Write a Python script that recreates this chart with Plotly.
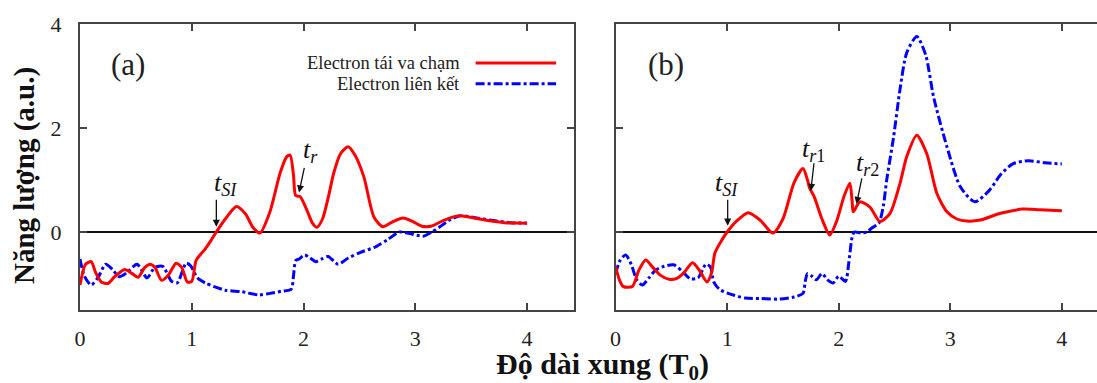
import plotly.graph_objects as go

# ---------------- data ----------------
# Panel (a)
a_red_x = [0.00, 0.05, 0.10, 0.14, 0.19, 0.25, 0.31, 0.40, 0.46, 0.52, 0.58, 0.63, 0.67, 0.73,
           0.79, 0.86, 0.91, 0.96, 1.00, 1.04, 1.12, 1.17, 1.22, 1.30, 1.40, 1.48, 1.55, 1.61,
           1.70, 1.79, 1.85, 1.88, 1.91, 1.93, 1.97, 2.03, 2.08, 2.12, 2.17, 2.22, 2.27, 2.33,
           2.40, 2.46, 2.54, 2.63, 2.71, 2.80, 2.89, 2.98, 3.06, 3.14, 3.25, 3.38, 3.50, 3.65,
           3.80, 4.00]
a_red_y = [-1.02, -0.62, -0.57, -0.78, -0.96, -0.99, -0.86, -0.72, -0.79, -0.87, -0.68, -0.62,
           -0.68, -0.93, -0.83, -0.60, -0.68, -0.96, -0.95, -0.54, -0.33, -0.17, 0.00, 0.25,
           0.49, 0.35, 0.08, -0.02, 0.39, 1.13, 1.45, 1.48, 1.10, 0.70, 0.68, 0.42, 0.17, 0.09,
           0.25, 0.65, 1.13, 1.50, 1.64, 1.48, 1.06, 0.29, 0.10, 0.20, 0.27, 0.20, 0.11, 0.11,
           0.22, 0.31, 0.28, 0.22, 0.18, 0.17]

a_blue_x = [0.00, 0.04, 0.10, 0.16, 0.23, 0.29, 0.35, 0.42, 0.51, 0.60, 0.67, 0.74, 0.82, 0.87,
            0.95, 0.99, 1.05, 1.12, 1.20, 1.30, 1.45, 1.60, 1.70, 1.80, 1.89, 1.91, 1.93, 1.96,
            2.01, 2.06, 2.11, 2.16, 2.22, 2.31, 2.40, 2.50, 2.65, 2.75, 2.86, 2.95, 3.07, 3.15,
            3.22, 3.30, 3.40, 3.55, 3.70, 3.85, 4.00]
a_blue_y = [-0.52, -0.85, -1.02, -0.88, -0.62, -0.72, -0.86, -0.78, -0.62, -0.88, -0.68, -0.66,
            -0.95, -0.98, -0.60, -0.65, -0.88, -0.98, -1.05, -1.12, -1.15, -1.21, -1.18, -1.14,
            -1.10, -0.85, -0.55, -0.52, -0.44, -0.50, -0.57, -0.52, -0.47, -0.62, -0.50, -0.40,
            -0.28, -0.15, 0.00, -0.03, -0.08, 0.00, 0.10, 0.22, 0.31, 0.27, 0.22, 0.18, 0.17]

# Panel (b)
b_red_x = [0.00, 0.04, 0.07, 0.15, 0.21, 0.27, 0.33, 0.40, 0.48, 0.55, 0.61, 0.69, 0.75, 0.82,
           0.86, 0.89, 0.94, 1.00, 1.08, 1.19, 1.30, 1.41, 1.50, 1.60, 1.68, 1.72, 1.74, 1.78,
           1.85, 1.92, 1.98, 2.05, 2.10, 2.12, 2.13, 2.19, 2.28, 2.37, 2.46, 2.55, 2.61, 2.70,
           2.79, 2.88, 2.97, 3.06, 3.15, 3.27, 3.45, 3.65, 3.80, 4.00]
b_red_y = [-0.67, -0.95, -1.05, -1.05, -0.73, -0.54, -0.67, -0.83, -0.91, -0.89, -0.79, -0.59,
           -0.73, -0.96, -0.79, -0.41, -0.20, 0.00, 0.20, 0.37, 0.22, -0.02, 0.25, 0.95, 1.22,
           1.00, 0.84, 0.68, 0.25, -0.06, 0.20, 0.70, 0.94, 0.60, 0.39, 0.58, 0.48, 0.20, 0.36,
           0.94, 1.45, 1.86, 1.50, 0.74, 0.39, 0.25, 0.21, 0.23, 0.36, 0.44, 0.43, 0.41]

b_blue_x = [0.00, 0.04, 0.09, 0.14, 0.19, 0.24, 0.30, 0.36, 0.42, 0.52, 0.60, 0.67, 0.74, 0.81,
            0.85, 0.88, 0.93, 1.01, 1.16, 1.30, 1.47, 1.60, 1.68, 1.70, 1.72, 1.76, 1.80, 1.85,
            1.90, 1.95, 2.00, 2.06, 2.09, 2.12, 2.14, 2.20, 2.25, 2.30, 2.36, 2.40, 2.43, 2.49,
            2.55, 2.61, 2.70, 2.78, 2.85, 2.97, 3.09, 3.22, 3.35, 3.45, 3.56, 3.70, 3.85, 4.00]
b_blue_y = [-0.80, -0.55, -0.44, -0.62, -0.92, -1.02, -0.88, -0.73, -0.67, -0.63, -0.76, -0.90,
            -0.88, -0.62, -0.67, -0.96, -1.10, -1.18, -1.27, -1.28, -1.29, -1.25, -1.18, -0.95,
            -0.80, -0.85, -0.92, -0.80, -0.92, -0.98, -0.85, -0.95, -0.60, -0.10, 0.00, -0.02,
            0.00, 0.08, 0.17, 0.50, 1.00, 1.80, 2.75, 3.45, 3.76, 3.40, 2.60, 1.64, 0.87, 0.58,
            0.80, 1.10, 1.31, 1.37, 1.33, 1.31]

x_ticks = [0, 1, 2, 3, 4]
y_ticks = [0, 2, 4]
legend_names = ["Electron tái va chạm", "Electron liên kết"]
panel_labels = ["(a)", "(b)"]

# ---------------- styling ----------------
RED = "#ff0000"
BLUE = "#0000ff"
FRAME = "#444444"
SERIF = "Liberation Serif"
BLUE_DASH = "9px,3px,3px,3px"

fig = go.Figure()

def add_pair(rx, ry, bx, by, xa, ya):
    fig.add_trace(go.Scatter(x=bx, y=by, mode="lines", xaxis=xa, yaxis=ya, showlegend=False,
                             line=dict(color=BLUE, width=3, dash=BLUE_DASH, shape="spline", smoothing=0.7)))
    fig.add_trace(go.Scatter(x=rx, y=ry, mode="lines", xaxis=xa, yaxis=ya, showlegend=False,
                             line=dict(color=RED, width=3, shape="spline", smoothing=0.7)))

add_pair(a_red_x, a_red_y, a_blue_x, a_blue_y, "x", "y")
add_pair(b_red_x, b_red_y, b_blue_x, b_blue_y, "x2", "y2")

TICKFONT = dict(family=SERIF, size=22, color="#222")
xcommon = dict(tickvals=x_ticks, ticks="inside", ticklen=7, tickwidth=1.5, tickcolor=FRAME,
               showline=True, linecolor=FRAME, linewidth=2, mirror="ticks", showgrid=False,
               zeroline=False, tickfont=TICKFONT, ticklabelstandoff=8, automargin=False)
ycommon = dict(tickvals=y_ticks, ticks="inside", ticklen=7, tickwidth=1.5, tickcolor=FRAME,
               showline=True, linecolor=FRAME, linewidth=2, showgrid=False,
               zeroline=True, zerolinecolor="#111", zerolinewidth=1.5, range=[-1.5, 4],
               tickfont=TICKFONT, automargin=False)

fig.update_layout(
    width=1097, height=383,
    font=dict(family=SERIF, color="#222"),
    margin=dict(l=80, r=0, t=24, b=73, autoexpand=False),
    paper_bgcolor="white", plot_bgcolor="white",
    xaxis=dict(domain=[0, 0.4857], range=[0, 4.42], anchor="y", **xcommon),
    yaxis=dict(domain=[0, 1], anchor="x", mirror="ticks", ticklabelstandoff=12, **ycommon),
    xaxis2=dict(domain=[0.5266, 1], range=[0, 4.315], anchor="y2", **xcommon),
    yaxis2=dict(domain=[0, 1], anchor="x2", mirror=False, showticklabels=False, **ycommon),
    showlegend=False,
)

ann = []
# panel labels
ann.append(dict(text=panel_labels[0], x=0.43, y=3.22, xref="x", yref="y", showarrow=False,
                font=dict(family=SERIF, size=31, color="#222")))
ann.append(dict(text=panel_labels[1], x=0.45, y=3.22, xref="x2", yref="y2", showarrow=False,
                font=dict(family=SERIF, size=31, color="#222")))
# legend texts
ann.append(dict(text=legend_names[0], x=3.42, y=3.25, xref="x", yref="y", xanchor="right",
                showarrow=False, font=dict(family=SERIF, size=18.5, color="#222")))
ann.append(dict(text=legend_names[1], x=3.42, y=2.85, xref="x", yref="y", xanchor="right",
                showarrow=False, font=dict(family=SERIF, size=18.5, color="#222")))

# arrow annotations (head at x,y; tail at ax,ay)
def arrow(xr, yr, hx, hy, tx, ty):
    ann.append(dict(x=hx, y=hy, ax=tx, ay=ty, xref=xr, yref=yr, axref=xr, ayref=yr, text="",
                    showarrow=True, arrowhead=2, arrowsize=1.1, arrowwidth=1.3, arrowcolor="#111"))

def tlabel(xr, yr, txt, x, y):
    ann.append(dict(x=x, y=y, xref=xr, yref=yr, text=txt, showarrow=False,
                    font=dict(family=SERIF, size=26, color="#111")))

arrow("x", "y", 1.22, 0.10, 1.22, 0.65)
tlabel("x", "y", "<i>t</i><sub><i>SI</i></sub>", 1.30, 0.92)
arrow("x", "y", 1.96, 0.76, 2.01, 1.26)
tlabel("x", "y", "<i>t</i><sub><i>r</i></sub>", 2.06, 1.55)

arrow("x2", "y2", 1.005, 0.12, 1.005, 0.65)
tlabel("x2", "y2", "<i>t</i><sub><i>SI</i></sub>", 0.99, 0.92)
arrow("x2", "y2", 1.75, 0.79, 1.78, 1.35)
tlabel("x2", "y2", "<i>t</i><sub><i>r</i>1</sub>", 1.77, 1.57)
arrow("x2", "y2", 2.16, 0.54, 2.21, 1.06)
tlabel("x2", "y2", "<i>t</i><sub><i>r</i>2</sub>", 2.26, 1.30)

# axis titles
ann.append(dict(text="<b>Năng lượng (a.u.)</b>", x=0, y=0.5, xref="paper", yref="paper",
                xanchor="center", yanchor="middle", xshift=-56, yshift=-9, textangle=-90,
                showarrow=False, font=dict(family=SERIF, size=29, color="#111")))
ann.append(dict(text="<b>Độ dài xung (T<sub>0</sub>)</b>", x=0.514, y=0, xref="paper", yref="paper",
                yanchor="middle", yshift=-56, showarrow=False,
                font=dict(family=SERIF, size=30, color="#111")))
fig.update_layout(annotations=ann)

# legend sample lines
fig.add_shape(type="line", xref="x", yref="y", x0=3.54, x1=4.26, y0=3.25, y1=3.25,
              line=dict(color=RED, width=3))
fig.add_shape(type="line", xref="x", yref="y", x0=3.54, x1=4.26, y0=2.85, y1=2.85,
              line=dict(color=BLUE, width=3, dash=BLUE_DASH))

fig.write_html("out.html", config={"displayModeBar": False},
               post_script="document.body.style.margin='0';")
